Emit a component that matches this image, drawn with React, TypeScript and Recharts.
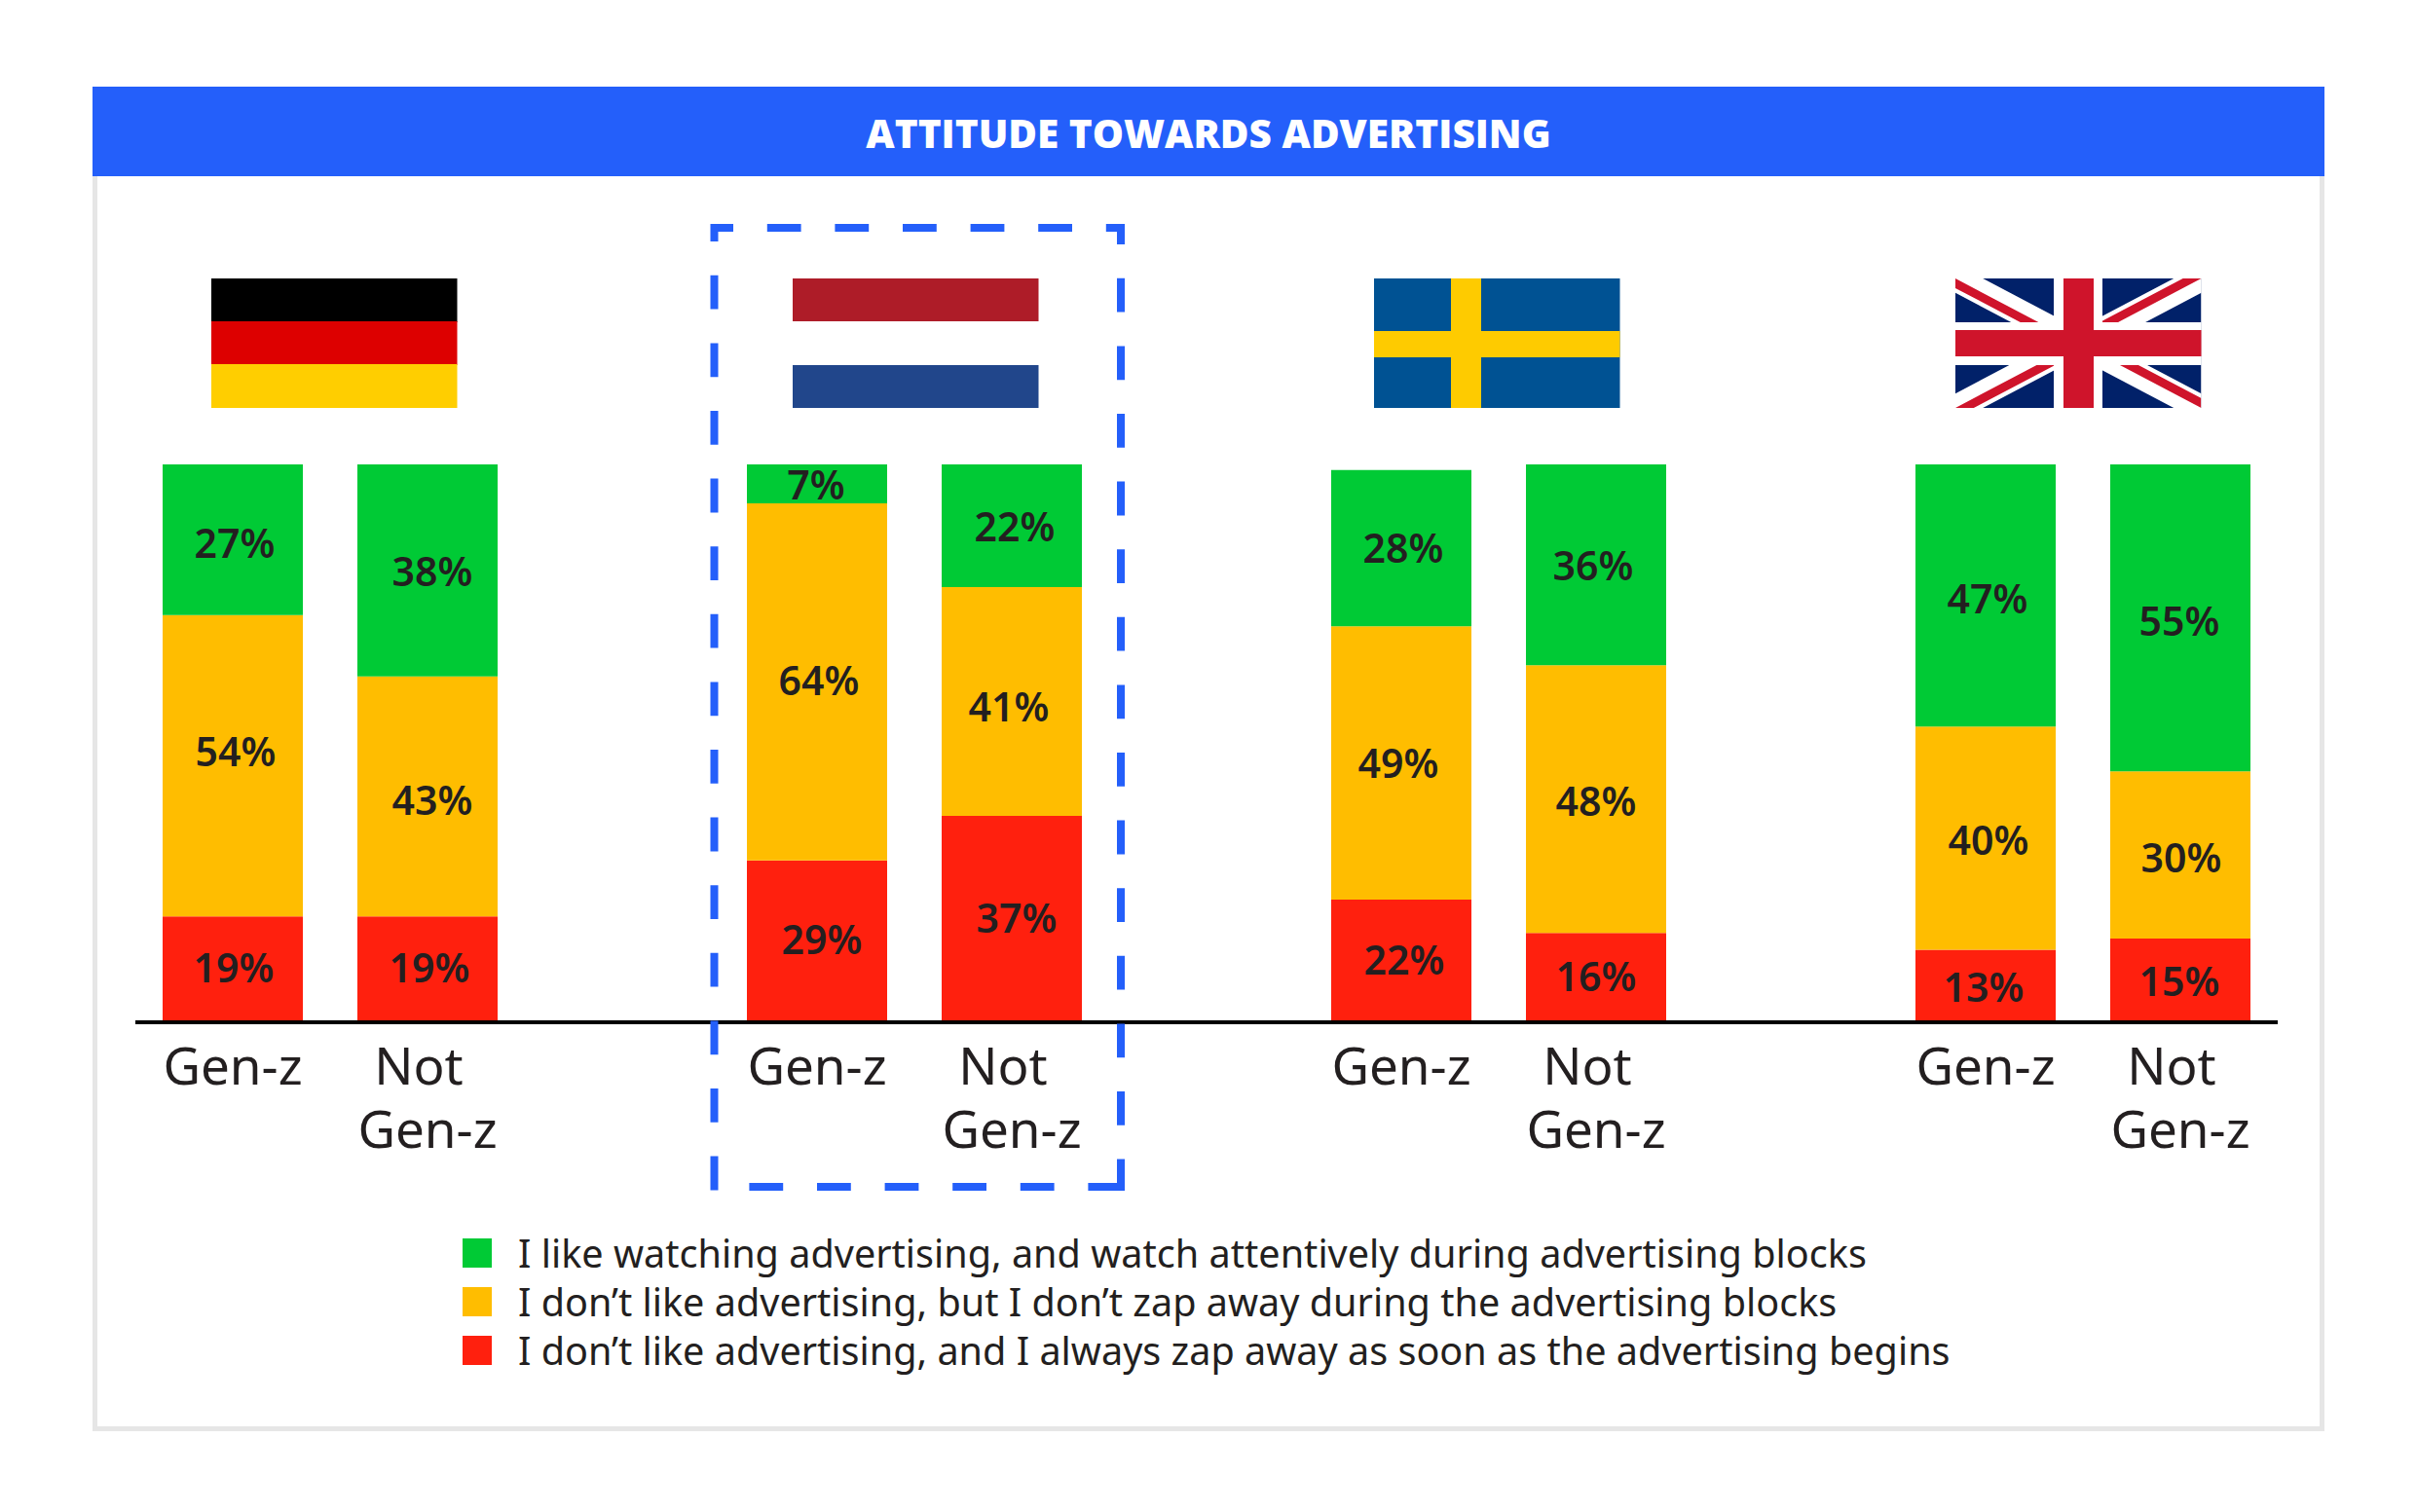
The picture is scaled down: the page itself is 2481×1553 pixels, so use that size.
import { BarChart, Bar, XAxis, YAxis, LabelList, Legend } from "recharts"

const slots = ["de-a", "de-b", "gap-1", "nl-a", "nl-b", "gap-2", "se-a", "se-b", "gap-3", "uk-a", "uk-b"]
const groupLabels = ["Gen-z", "Not Gen-z", "", "Gen-z", "Not Gen-z", "", "Gen-z", "Not Gen-z", "", "Gen-z", "Not Gen-z"]
const zapValues = [19, 19, null, 29, 37, null, 22, 16, null, 13, 15]
const stayValues = [54, 43, null, 64, 41, null, 49, 48, null, 40, 30]
const likeValues = [27, 38, null, 7, 22, null, 28, 36, null, 47, 55]

// the labels sit a little off centre in the original, hand placed (one per drawn bar)
const zapNudge = [[1, -3], [2, -3], [5, -3], [5, -2], [3, -2], [0, -2], [-2, 0], [-1, 0]]
const stayNudge = [[3, -15], [5, 3], [2, -2], [-3, 4], [-3, -1], [0, 1], [3, 1], [1, 2]]
const likeNudge = [[2, 3], [5, 0], [-1, 0], [3, 0], [2, -1], [-3, 0], [2, 2], [-1, 2]]

const legendRows = [
  { label: "I like watching advertising, and watch attentively during advertising blocks", color: "#00ca35" },
  { label: "I don’t like advertising, but I don’t zap away during the advertising blocks", color: "#ffbd00" },
  { label: "I don’t like advertising, and I always zap away as soon as the advertising begins", color: "#ff200e" },
]

const chartData = slots.map((slot, i) => ({
  slot,
  group: groupLabels[i],
  zap: zapValues[i],
  stay: stayValues[i],
  like: likeValues[i],
}))

const BLUE = "#245ffa"
const INK = "#231f20"
const FONT = "'Noto Sans', sans-serif"

function GroupTick({ x, payload }: any) {
  const label = groupLabels[slots.indexOf(payload.value)]
  if (!label) return null
  const two = label.startsWith("Not")
  return (
    <text textAnchor="middle" fill={INK} fontFamily={FONT} fontSize={53} fontWeight={400}>
      {two ? (
        <>
          <tspan x={x - 9} y={1114}>Not</tspan>
          <tspan x={x} y={1179}>Gen-z</tspan>
        </>
      ) : (
        <tspan x={x} y={1114}>{label}</tspan>
      )}
    </text>
  )
}

// LabelList content, moves each label by its nudge
const valueLabel = (nudges: number[][]) => (props: any) => {
  const { value, index, viewBox } = props
  const nudge = nudges[index]
  if (value == null || !nudge) return null
  return (
    <text
      x={viewBox.x + viewBox.width / 2 + nudge[0]}
      y={viewBox.y + viewBox.height / 2 + nudge[1]}
      textAnchor="middle"
      dominantBaseline="central"
      fill={INK}
      fontFamily={FONT}
      fontSize={41}
      fontWeight={600}
    >
      {`${value}%`}
    </text>
  )
}

function LegendRows() {
  return (
    <div style={{ fontFamily: FONT, fontSize: 39.6, color: INK }}>
      {legendRows.map((row) => (
        <div key={row.label} style={{ display: "flex", alignItems: "center", height: 50 }}>
          <span style={{ width: 30, height: 30, background: row.color, marginRight: 27 }} />
          <span style={{ whiteSpace: "nowrap" }}>{row.label}</span>
        </div>
      ))}
    </div>
  )
}

function Flags() {
  const top = 286
  const w = 252.5
  const h = 133
  return (
    <svg width={2481} height={1553} style={{ position: "absolute", left: 0, top: 0 }}>
      {/* germany */}
      <rect x={217} y={top} width={w} height={45} fill="#000000" />
      <rect x={217} y={top + 44} width={w} height={45} fill="#dd0000" />
      <rect x={217} y={top + 88} width={w} height={45} fill="#ffce00" />
      {/* netherlands */}
      <rect x={814} y={top} width={w} height={44} fill="#ae1c28" />
      <rect x={814} y={top + 89} width={w} height={44} fill="#21468b" />
      {/* sweden */}
      <rect x={1411} y={top} width={w} height={h} fill="#005293" />
      <rect x={1490} y={top} width={31} height={h} fill="#fecb00" />
      <rect x={1411} y={340} width={w} height={27} fill="#fecb00" />
      {/* uk */}
      <svg x={2008} y={top} width={w} height={h} viewBox="0 0 60 30" preserveAspectRatio="none">
        <clipPath id="ukDiag">
          <path d="M30,15 h30 v15 z v15 h-30 z h-30 v-15 z v-15 h30 z" />
        </clipPath>
        <rect width={60} height={30} fill="#012169" />
        <path d="M0,0 L60,30 M60,0 L0,30" stroke="#ffffff" strokeWidth={6} />
        <path d="M0,0 L60,30 M60,0 L0,30" stroke="#cf142b" strokeWidth={4} clipPath="url(#ukDiag)" />
      </svg>
      <rect x={2008} y={331} width={w} height={44} fill="#ffffff" />
      <rect x={2109} y={top} width={50} height={h} fill="#ffffff" />
      <rect x={2008} y={339} width={w} height={27} fill="#cf142b" />
      <rect x={2119} y={top} width={31} height={h} fill="#cf142b" />
      {/* highlight around the netherlands */}
      <g stroke={BLUE} strokeWidth={8} strokeDasharray="34.8 34.8" fill="none">
        <line x1={730} y1={234} x2={1155} y2={234} strokeDashoffset={11.8} />
        <line x1={733.5} y1={230} x2={733.5} y2={1223} strokeDashoffset={16.8} />
        <line x1={1151} y1={230} x2={1151} y2={1223} strokeDashoffset={13.8} />
        <line x1={769.4} y1={1219} x2={1155} y2={1219} />
      </g>
    </svg>
  )
}

export default function App() {
  return (
    <div style={{ position: "absolute", left: 0, top: 0, width: 2481, height: 1553, background: "#ffffff", overflow: "hidden" }}>
      <div style={{ position: "absolute", left: 95, top: 89, width: 2292, height: 1381, boxSizing: "border-box", border: "5px solid #e6e6e6" }} />
      <div
        style={{
          position: "absolute", left: 95, top: 89, width: 2292, height: 92, background: BLUE, color: "#ffffff",
          fontFamily: "'Open Sans', sans-serif", fontWeight: 800, fontSize: 40.5, lineHeight: "95px", textAlign: "center",
        }}
      >
        ATTITUDE TOWARDS ADVERTISING
      </div>
      <div style={{ position: "absolute", left: 0, top: 0 }}>
        <BarChart
          width={2481}
          height={1553}
          data={chartData}
          barSize={144}
          margin={{ top: 477, right: 142, bottom: 253, left: 139 }}
        >
          <XAxis
            dataKey="slot"
            interval={0}
            tick={<GroupTick />}
            tickLine={false}
            axisLine={{ stroke: "#000000", strokeWidth: 4 }}
            height={100}
          />
          <YAxis hide domain={[0, 100]} />
          <Legend
            content={<LegendRows />}
            wrapperStyle={{ position: "absolute", left: 475, top: 1262, width: 1700, bottom: "auto" }}
          />
          <Bar dataKey="zap" stackId="a" fill="#ff200e" isAnimationActive={false}>
            <LabelList dataKey="zap" content={valueLabel(zapNudge)} />
          </Bar>
          <Bar dataKey="stay" stackId="a" fill="#ffbd00" isAnimationActive={false}>
            <LabelList dataKey="stay" content={valueLabel(stayNudge)} />
          </Bar>
          <Bar dataKey="like" stackId="a" fill="#00ca35" isAnimationActive={false}>
            <LabelList dataKey="like" content={valueLabel(likeNudge)} />
          </Bar>
        </BarChart>
      </div>
      <Flags />
    </div>
  )
}
